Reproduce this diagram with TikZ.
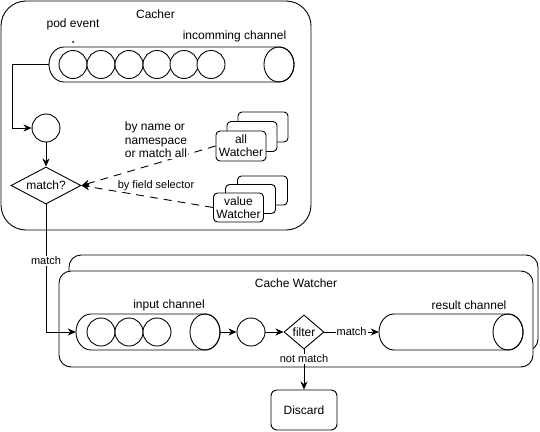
\documentclass[tikz,border=0pt]{standalone}
\usepackage{fontspec}
\setmainfont{Liberation Sans}
\usetikzlibrary{arrows.meta,shapes.geometric}
\tikzset{
  base/.style={line width=0.9pt},
  ball/.style={base,draw,circle,fill=white,minimum size=28pt,inner sep=0pt},
  box/.style={base,draw,fill=white,rounded corners=4pt,inner sep=0pt,align=center,font=\fontsize{12}{13}\selectfont},
  lbl/.style={font=\fontsize{12}{13.5}\selectfont,inner sep=1pt},
  slbl/.style={font=\fontsize{11}{12}\selectfont,inner sep=1pt,fill=white},
  conn/.style={base,-{Stealth[length=8pt,width=7pt,inset=2.5pt]}},
  dconn/.style={conn,dash pattern=on 8pt off 6pt},
  anchorbox/.style={inner sep=0pt,draw=none}
}
\newcommand\hcyl[5]{% name, x1, y1, x2, y2
  \pgfmathsetmacro\cyrx{15}
  \pgfmathsetmacro\cyry{(#5-#3)/2}
  \pgfmathsetmacro\cycy{(#3+#5)/2}
  \filldraw[base,fill=white] (#2+\cyrx,#3) -- (#4-\cyrx,#3)
     arc[start angle=-90,end angle=90,x radius=\cyrx,y radius=\cyry]
     -- (#2+\cyrx,#5)
     arc[start angle=90,end angle=270,x radius=\cyrx,y radius=\cyry] -- cycle;
  \draw[base] (#4-\cyrx,\cycy) ellipse[x radius=\cyrx,y radius=\cyry];
  \node[anchorbox,minimum width=#4-#2,minimum height=#5-#3] (#1) at ({(#2+#4)/2},\cycy) {};
}
\begin{document}
\begin{tikzpicture}[x=1pt,y=-1pt]
\useasboundingbox (0,0) rectangle (540,431);

% Cacher
\draw[base,rounded corners=25pt] (1,1) rectangle (311,230);
\node[lbl] (cachert) at (155.5,14) {Cacher};
\node[lbl] (pod) at (73,24) {pod event};
\fill (73,42) circle (1pt);
\node[lbl] (inchl) at (234.5,36) {incomming channel};
\hcyl{inch}{49}{47}{294}{82}
\foreach \i/\x in {1/73,2/101,3/129,4/157,5/184,6/211}
  \node[ball] (ic\i) at (\x,64.5) {};

\node[ball] (c1) at (46,128) {};
\node[base,draw,diamond,aspect=2,inner sep=0pt,minimum width=70pt,minimum height=37pt,
      font=\fontsize{12}{13}\selectfont,fill=white] (match) at (46,185.5) {match?};

\draw[conn] (inch.west) -- (12,64.5) -- (12,128) -- (c1.west);
\draw[conn] (c1.south) -- (match.north);

% watcher stacks
\node[box,minimum width=50pt,minimum height=30pt] (allc) at (263,127) {};
\node[box,minimum width=50pt,minimum height=30pt] (allb) at (252,136.5) {};
\node[box,minimum width=50pt,minimum height=30pt] (alla) at (241,146) {all\\Watcher};
\node[box,minimum width=50pt,minimum height=29pt] (valc) at (262.5,190.5) {};
\node[box,minimum width=50pt,minimum height=29pt] (valb) at (250.5,199) {};
\node[box,minimum width=50pt,minimum height=29pt] (vala) at (238.5,207.5) {value\\Watcher};

\draw[dconn] (alla.west) -- (match.east);
\draw[dconn] (vala.west) -- (match.east);
\node[lbl,align=left,fill=white] (byname) at (156,140) {by name or\\namespace\\or match all};
\node[slbl] (byfield) at (156,186) {by field selector};

% Cache Watcher
\draw[base,fill=white,rounded corners=12pt] (69,255) rectangle (538,351);
\draw[base,fill=white,rounded corners=12pt] (59,271) rectangle (533,367);
\node[lbl] (cwt) at (296,283) {Cache Watcher};

\node[lbl] (inl) at (169,305) {input channel};
\hcyl{inp}{76}{314}{220}{350}
\foreach \i/\x in {1/101,2/129,3/157}
  \node[ball] (ip\i) at (\x,332) {};
\node[ball] (c2) at (251,332) {};
\node[base,draw,diamond,aspect=1.2,inner sep=0pt,minimum width=40pt,minimum height=34pt,
      font=\fontsize{12}{13}\selectfont,fill=white] (filter) at (304,332) {filter};
\node[lbl] (resl) at (469,305) {result channel};
\hcyl{res}{379}{314}{523}{350}

\node[box,rounded corners=6pt,minimum width=66pt,minimum height=40pt] (discard) at (304,410) {Discard};

% connectors
\draw[conn] (match.south) -- (46,332) -- (inp.west);
\node[slbl] (matchl) at (46,261) {match};
\draw[conn] (inp.east) -- (c2.west);
\draw[conn] (c2.east) -- (filter.west);
\draw[conn] (filter.east) -- node[slbl] (m2) {match} (res.west);
\draw[conn] (filter.south) -- (discard.north);
\node[slbl] (nm) at (304,359) {not match};
\end{tikzpicture}
\end{document}
